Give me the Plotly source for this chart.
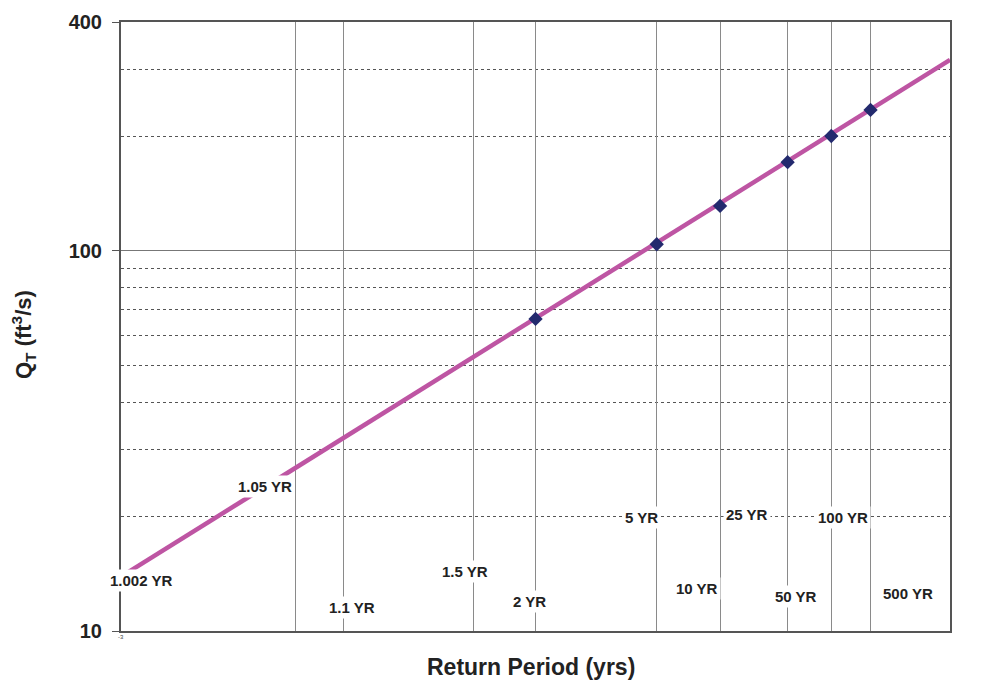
import plotly.graph_objects as go
from statistics import NormalDist

# ---- data ----
return_periods_pts = [2, 5, 10, 25, 50, 100]          # years, plotted points
q_pts = [66.2, 104.1, 131.3, 171.1, 200.5, 234.8]     # ft^3/s

line_T = [1.002, 500]                                  # fitted line end points (years)
line_q = [13.9, 318.0]                                 # ft^3/s

grid_T = [1.05, 1.1, 1.5, 2, 5, 10, 25, 50, 100]       # vertical grid (return periods)
label_texts = ["1.002 YR", "1.05 YR", "1.1 YR", "1.5 YR", "2 YR", "5 YR",
               "10 YR", "25 YR", "50 YR", "100 YR", "500 YR"]
y_major = [10, 100, 400]
y_minor = [20, 30, 40, 50, 60, 70, 80, 90, 200, 300]

# label centre positions (pixel coordinates of the 981x688 canvas)
label_px = [(141, 580), (265, 486), (352, 607), (465, 571), (529, 601), (641, 517),
            (697, 588), (747, 514), (796, 596), (843, 517), (908, 593)]

nd = NormalDist()
def z(T):
    return nd.inv_cdf(1 - 1 / T)

OFF = 8                      # page body margin
W, H = 981 - OFF, 688 - OFF
PL, PR, PT, PB = 121, 950, 22, 631   # plot area in canvas pixels
L, T_ = PL - OFF, PT - OFF
pw, ph = PR - PL, PB - PT
R, B = W - L - pw, H - T_ - ph

fig = go.Figure()
fig.add_trace(go.Scatter(
    x=[z(t) for t in line_T], y=line_q, mode="lines",
    line=dict(color="#BE55A3", width=4.5), hoverinfo="skip", showlegend=False))
fig.add_trace(go.Scatter(
    x=[z(t) for t in return_periods_pts], y=q_pts, mode="markers",
    marker=dict(symbol="diamond", size=11, color="#232A6E"), showlegend=False))

font = "Liberation Sans, Arial, sans-serif"
for txt, (px, py) in zip(label_texts, label_px):
    fig.add_annotation(
        x=(px - PL) / pw, y=(PB - py) / ph, xref="paper", yref="paper",
        text=f"<b>{txt}</b>", showarrow=False, bgcolor="white",
        font=dict(family=font, size=15, color="#222"),
        xanchor="center", yanchor="middle", borderpad=2)

# tiny leftover tick text
fig.add_annotation(x=0, y=0, xref="paper", yref="paper", text="-3", showarrow=False,
                   font=dict(family=font, size=6, color="#444"), yanchor="top",
                   xanchor="center", yshift=-1)

# axis titles
fig.add_annotation(x=(531 - PL) / pw, y=(PB - 667) / ph, xref="paper", yref="paper",
                   text="<b>Return Period (yrs)</b>", showarrow=False,
                   xanchor="center", yanchor="middle",
                   font=dict(family=font, size=23, color="#222"))
fig.add_annotation(x=(24 - PL) / pw, y=(PB - 335) / ph, xref="paper", yref="paper",
                   text="<b>Q<sub>T</sub> (ft<sup>3</sup>/s)</b>", showarrow=False, textangle=-90,
                   xanchor="center", yanchor="middle",
                   font=dict(family=font, size=22, color="#222"))

fig.update_xaxes(
    automargin=False,
    range=[z(line_T[0]), z(line_T[1])], tickvals=[z(t) for t in grid_T],
    showticklabels=False, ticks="", showgrid=True, gridcolor="#8A8A8A", gridwidth=1,
    zeroline=False, showline=True, linecolor="#555", linewidth=2, mirror=True)
fig.update_yaxes(
    automargin=False,
    type="log", range=[1, 2.60206], tickvals=y_major,
    ticktext=[f"<b>{v}</b>" for v in y_major],
    ticks="outside", ticklen=7, tickcolor="#555", ticklabelstandoff=6,
    tickfont=dict(family=font, size=20, color="#222"),
    showgrid=True, gridcolor="#777", gridwidth=1, zeroline=False,
    showline=True, linecolor="#555", linewidth=2, mirror=True,
    minor=dict(tickvals=y_minor, showgrid=True, griddash="dot", gridcolor="#555",
               gridwidth=1, ticks=""))

fig.update_layout(
    width=W, height=H, margin=dict(l=L, r=R, t=T_, b=B, autoexpand=False),
    plot_bgcolor="white", paper_bgcolor="white", showlegend=False)

fig.write_html("out.html")
